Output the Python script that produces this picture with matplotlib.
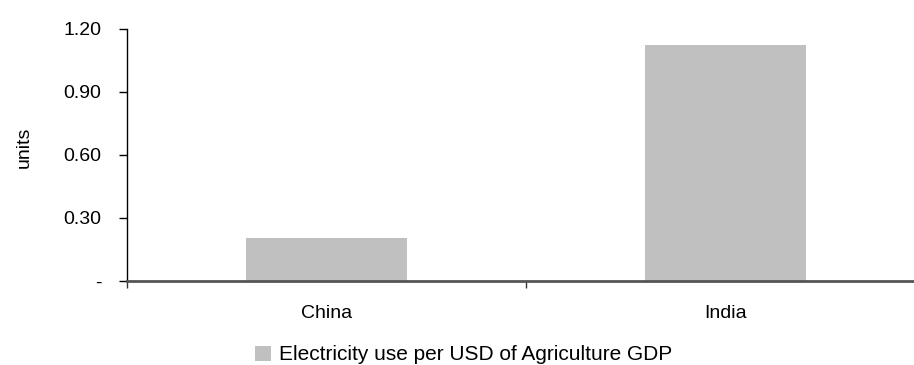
import matplotlib.pyplot as plt
from matplotlib.ticker import FuncFormatter

plt.rcParams["font.family"] = ["Liberation Sans", "DejaVu Sans"]

countries = ["China", "India"]
electricity_per_usd = [0.205, 1.124]
y_ticks = [0.0, 0.30, 0.60, 0.90, 1.20]
series_label = "Electricity use per USD of Agriculture GDP"

W, H = 914, 365
fig = plt.figure(figsize=(W / 100, H / 100), dpi=100)
ax = fig.add_axes([127 / W, 1 - 281 / H, 798 / W, 252 / H])

positions = range(len(countries))
ax.bar(positions, electricity_per_usd, width=0.405, color="#c0c0c0",
       label=series_label, zorder=1)

ax.set_xlim(-0.5, len(countries) - 0.5)
ax.set_ylim(0, 1.2)
ax.set_yticks(y_ticks)
ax.yaxis.set_major_formatter(FuncFormatter(lambda v, _: "-" if v == 0 else f"{v:.2f}"))
fig.text(24 / W, 1 - 147 / H, "units", rotation=90, fontsize=14,
         ha="center", va="center")

# category labels sit between boundary ticks
ax.set_xticks([-0.5, 0.5, 1.5])
ax.set_xticklabels([])
ax.set_xticks(list(positions), minor=True)
ax.set_xticklabels(countries, minor=True, fontsize=14)
ax.tick_params(axis="x", which="minor", length=0, pad=17)
ax.tick_params(axis="x", which="major", length=5, width=1, color="#333333")
ax.tick_params(axis="y", labelsize=14, length=5.5, width=1, pad=13)

for side in ("top", "right"):
    ax.spines[side].set_visible(False)
ax.spines["left"].set_linewidth(1)
ax.spines["bottom"].set_linewidth(2)
ax.spines["bottom"].set_color("#555555")
ax.spines["bottom"].set_zorder(3)

fig.legend(loc="center", bbox_to_anchor=(464 / W, 1 - 355 / H), frameon=False,
           fontsize=15, handlelength=0.75, handleheight=0.75, handletextpad=0.4,
           borderaxespad=0, borderpad=0)

fig.savefig("out.png", dpi=100)
